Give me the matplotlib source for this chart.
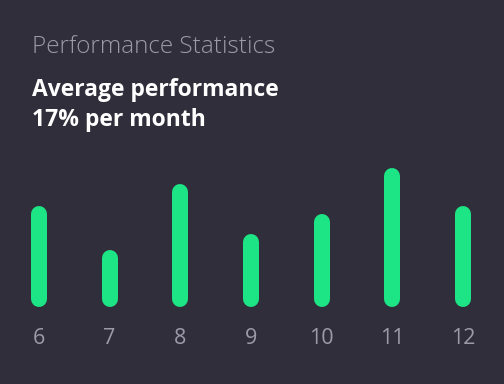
import matplotlib.pyplot as plt

# Dane
months = ["6", "7", "8", "9", "10", "11", "12"]
performance = [101, 57, 123, 73, 93, 139, 101]

title = "Performance Statistics"
subtitle = "Average performance\n17% per month"

bg = "#2f2e3a"
green = "#1de586"
grey = "#9c9aa8"

plt.rcParams['font.family'] = ['Open Sans', 'DejaVu Sans']

fig = plt.figure(figsize=(5.04, 3.84), dpi=100, facecolor=bg)
ax = fig.add_axes([0, 77 / 384, 1, 147 / 384])
ax.set_facecolor(bg)

x = list(range(len(months)))
ax.set_xlim(-39 / 70.67, (504 - 39) / 70.67)
ax.set_ylim(0, 147)

# zaokrąglone słupki - linie z okrągłym zakończeniem
r = 8  # promień w jednostkach danych (1 jednostka = 1 px)
for xi, v in zip(x, performance):
    ax.plot([xi, xi], [r, v - r], color=green, linewidth=16 * 0.72,
            solid_capstyle='round')

for s in ax.spines.values():
    s.set_visible(False)
ax.set_yticks([])
ax.set_xticks([])
for xi, m in zip(x, months):
    ax.text(xi, -31, m, ha='center', va='center', color=grey, fontsize=15.5,
            clip_on=False)

fig.text(32 / 504, 1 - 47 / 384, title, color=grey, fontsize=17.5,
         fontweight='light', va='center', ha='left')
fig.text(32 / 504, 1 - 105 / 384, subtitle, color='white', fontsize=16.5,
         fontweight='bold', va='center', ha='left', linespacing=1.38)

fig.savefig("out.png", dpi=100, facecolor=bg)
